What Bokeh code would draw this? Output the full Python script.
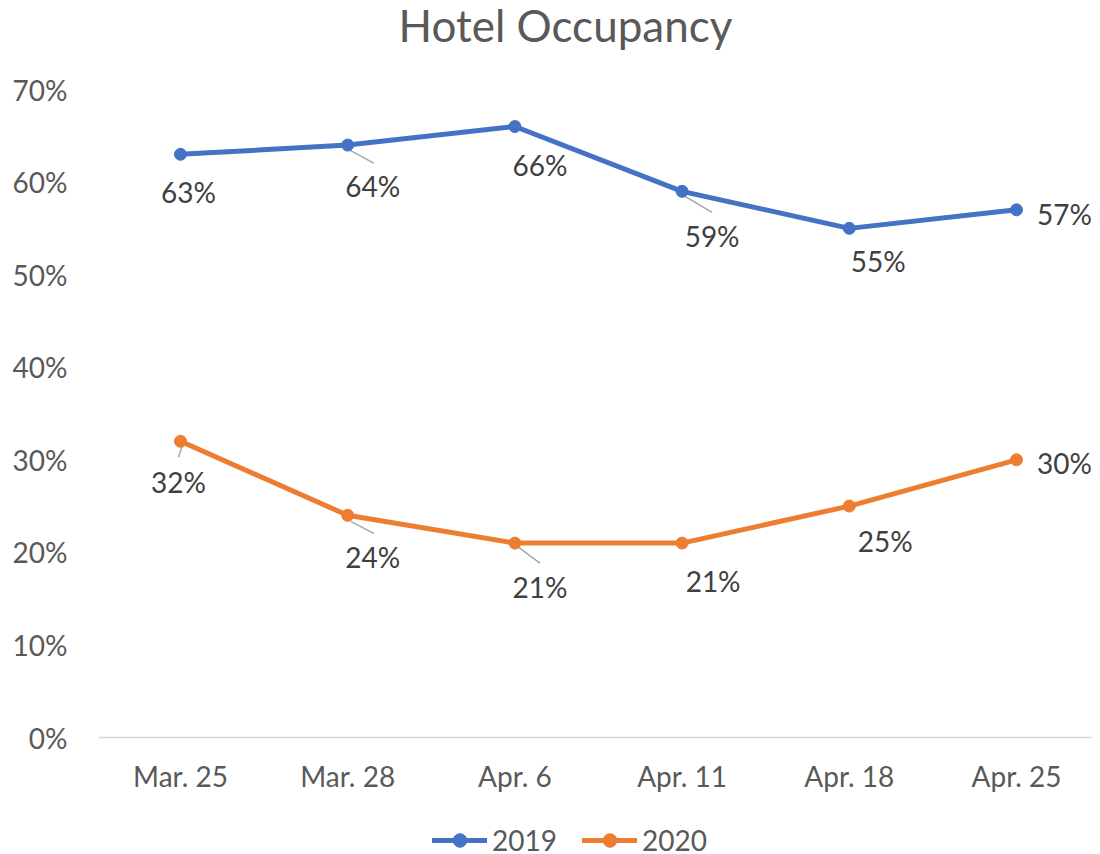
from bokeh.plotting import figure
from bokeh.layouts import column
from bokeh.models import (FixedTicker, Legend, LegendItem, ColumnDataSource,
                          Range1d, PrintfTickFormatter, Label)
from bokeh.embed import file_html
from bokeh.resources import INLINE
from bokeh.core.properties import value

# ---- data ----
categories = ["Mar. 25", "Mar. 28", "Apr. 6", "Apr. 11", "Apr. 18", "Apr. 25"]
occ_2019 = [63, 64, 66, 59, 55, 57]
occ_2020 = [32, 24, 21, 21, 25, 30]
y_ticks = [0, 10, 20, 30, 40, 50, 60, 70]
series_names = ["2019", "2020"]
chart_title = "Hotel Occupancy"

# ---- label placement (pixel offsets from point: right, down) ----
off_2019 = [(8, 38), (25, 41), (25, 38), (30, 45), (29, 33), (48, 4)]
off_2020 = [(-2, 41), (25, 42), (25, 44), (31, 38), (36, 35), (48, 3)]
# leader lines: (index, start dx, start dy, end dx, end dy)
lead_2019 = [(1, 2, 5, 26, 18), (3, 3, 5, 30, 21)]
lead_2020 = [(0, 2, 4, -2, 16), (1, 3, 6, 26, 18), (2, 2, 3, 25, 20)]

FONT = "Lato"
C19, C20 = "#4472C4", "#ED7D31"

# ---- geometry ----
FW, FH = 994, 730          # frame spans from near page top to the 0% baseline
ML, MT, MB = 98, 7, 52
CAT_PX = 167.2             # pixels per category
PCT_PX = 9.257             # pixels per percentage point
X0 = -82 / CAT_PX
X1 = X0 + FW / CAT_PX
Y0 = 0
Y1 = FH / PCT_PX

p = figure(frame_width=FW, frame_height=FH, x_range=Range1d(X0, X1), y_range=Range1d(Y0, Y1),
           output_backend="svg", toolbar_location=None,
           min_border_left=ML, min_border_right=0, min_border_top=MT, min_border_bottom=MB)
p.outline_line_color = None
p.grid.visible = False
p.background_fill_color = "white"
p.border_fill_color = "white"

xs = list(range(len(categories)))

# axes
p.xaxis.ticker = FixedTicker(ticks=xs)
p.xaxis.major_label_overrides = {i: c for i, c in enumerate(categories)}
p.xaxis.axis_line_color = "#d9d9d9"
p.xaxis.axis_line_width = 1.5
p.xaxis.major_tick_line_color = None
p.xaxis.minor_tick_line_color = None
p.xaxis.major_label_standoff = 15
p.xaxis.major_label_text_font = FONT
p.xaxis.major_label_text_font_size = "28px"
p.xaxis.major_label_text_color = "#595959"

p.yaxis.ticker = FixedTicker(ticks=y_ticks)
p.yaxis.formatter = PrintfTickFormatter(format="%d%%")
p.yaxis.axis_line_color = None
p.yaxis.major_tick_line_color = None
p.yaxis.minor_tick_line_color = None
p.yaxis.major_label_standoff = 25
p.yaxis.major_label_text_font = FONT
p.yaxis.major_label_text_font_size = "28px"
p.yaxis.major_label_text_color = "#595959"

for vals, col, offs, leads in [(occ_2019, C19, off_2019, lead_2019),
                               (occ_2020, C20, off_2020, lead_2020)]:
    if leads:
        x0s = [xs[i] + sx / CAT_PX for i, sx, sy, ex, ey in leads]
        y0s = [vals[i] - sy / PCT_PX for i, sx, sy, ex, ey in leads]
        x1s = [xs[i] + ex / CAT_PX for i, sx, sy, ex, ey in leads]
        y1s = [vals[i] - ey / PCT_PX for i, sx, sy, ex, ey in leads]
        p.segment(x0s, y0s, x1s, y1s, line_color="#a6a6a6", line_width=1.5)
    p.line(xs, vals, line_color=col, line_width=5, line_cap="round", line_join="round")
    p.scatter(xs, vals, size=12, fill_color=col, line_color=col)
    src = ColumnDataSource(dict(x=xs, y=vals, t=[f"{v}%" for v in vals],
                                dx=[o[0] for o in offs], dy=[o[1] for o in offs]))
    p.text("x", "y", text="t", x_offset="dx", y_offset="dy", source=src,
           text_align="center", text_baseline="middle",
           text_font=value(FONT), text_font_size="28px", text_color="#404040")

# title, inside the tall frame above the 70% level
title = Label(x=X0 + (565 - 98) / CAT_PX, y=Y1 - 17 / PCT_PX, text=chart_title,
              text_align="center", text_baseline="middle", text_font=FONT,
              text_font_size="44px", text_color="#595959")
p.add_layout(title)

# ---- legend strip below the chart ----
LH = 64
lg = figure(width=ML + FW, height=LH, x_range=Range1d(100, 101), y_range=Range1d(0, 1),
            output_backend="svg", toolbar_location=None, x_axis_type=None, y_axis_type=None,
            min_border=0)
lg.outline_line_color = None
lg.grid.visible = False
items = []
for name, vals, col in [(series_names[0], occ_2019, C19), (series_names[1], occ_2020, C20)]:
    r1 = lg.line(xs, vals, line_color=col, line_width=5, line_cap="round")
    r2 = lg.scatter(xs, vals, size=12, fill_color=col, line_color=col)
    items.append(LegendItem(label=name, renderers=[r1, r2]))
legend = Legend(items=items, orientation="horizontal", location=(334, 2),
                border_line_color=None, background_fill_alpha=0,
                label_text_font=FONT, label_text_font_size="28px",
                label_text_color="#595959",
                glyph_width=55, glyph_height=34, label_height=34, label_standoff=5,
                spacing=25, padding=0, margin=0)
lg.add_layout(legend, "center")

layout = column(p, lg, spacing=0)
open("out.html", "w").write(file_html(layout, INLINE))
